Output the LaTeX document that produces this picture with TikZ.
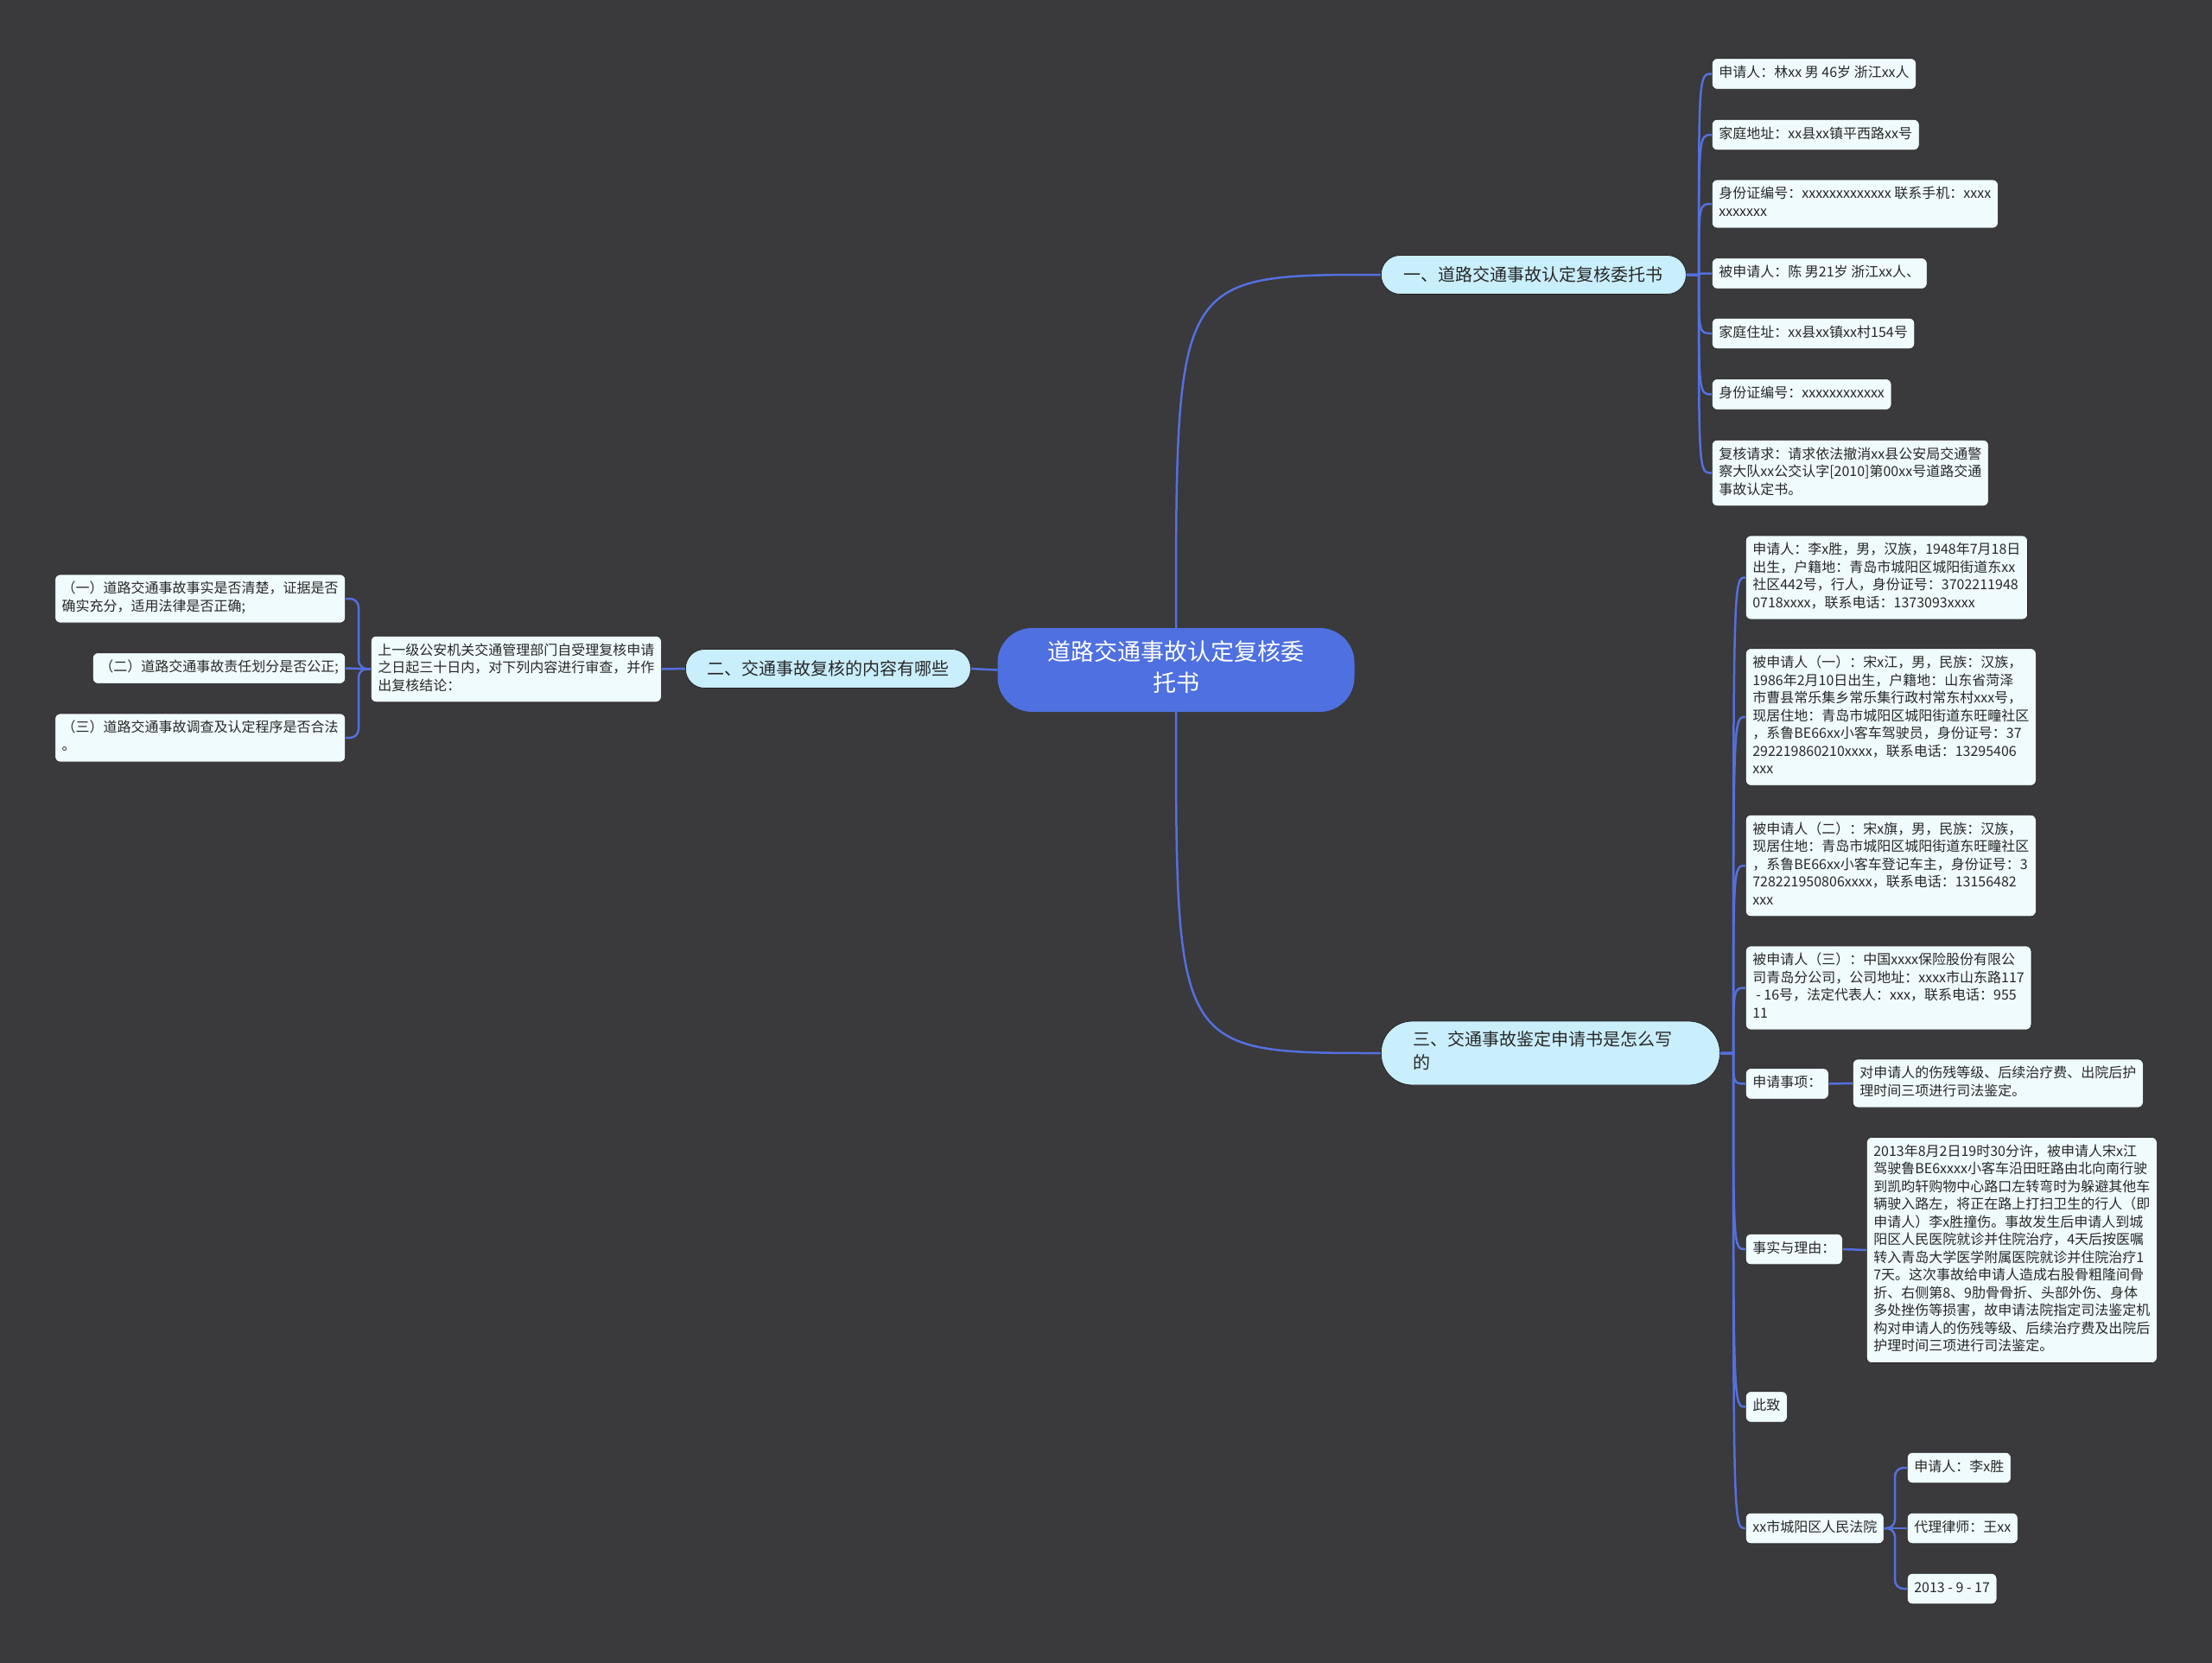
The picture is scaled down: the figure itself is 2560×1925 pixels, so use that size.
\documentclass[tikz,border=0pt]{standalone}
\usepackage{fontspec}
\setmainfont{Noto Sans CJK SC}
\definecolor{bgc}{RGB}{58,57,59}
\definecolor{linec}{RGB}{84,112,222}
\definecolor{rootc}{RGB}{78,112,224}
\definecolor{brc}{RGB}{201,238,252}
\definecolor{leafc}{RGB}{240,251,253}
\definecolor{txtc}{RGB}{40,40,40}
\definecolor{edgec}{RGB}{36,36,38}
\begin{document}
\begin{tikzpicture}[x=1pt,y=-1pt,
  conn/.style={draw=linec, line width=2.5pt},
  leaf/.style={rectangle, rounded corners=6pt, fill=leafc, draw=edgec, line width=0.6pt,
    text=txtc, font=\fontsize{16}{20.5}\selectfont, inner xsep=8pt, inner ysep=7.5pt, align=left},
  branch/.style={rectangle, rounded corners=22pt, fill=brc, draw=edgec, line width=0.8pt,
    text=txtc, font=\fontsize{20}{27}\selectfont, inner sep=0pt, align=center, minimum height=45pt},
  rootnode/.style={rectangle, rounded corners=40pt, fill=rootc, draw=none,
    text=white, font=\fontsize{27}{36}\selectfont, inner sep=0pt, align=center,
    minimum width=413pt, minimum height=97pt}
]
\fill[bgc] (0,0) rectangle (2560,1925);
\useasboundingbox (0,0) rectangle (2560,1925);

% root and branches
\node[rootnode] (root) at (1361,775.5) {\strut 道路交通事故认定复核委\\托书\strut};
\node[branch, anchor=west, minimum width=353pt] (b1) at (1598,318) {一、道路交通事故认定复核委托书};
\node[branch, anchor=west, minimum width=330pt] (b2) at (793,774) {二、交通事故复核的内容有哪些};
\node[branch, anchor=west, rounded corners=36pt, align=left, text width=318pt, inner xsep=37pt, inner ysep=9pt,
  minimum height=74pt] (b3) at (1598,1219) {\strut 三、交通事故鉴定申请书是怎么写\\的\strut};

% branch 1 leaves
\node[leaf, anchor=west] (a1) at (1981,85.5) {\strut 申请人：林xx 男 46岁 浙江xx人\strut};
\node[leaf, anchor=west] (a2) at (1981,156) {\strut 家庭地址：xx县xx镇平西路xx号\strut};
\node[leaf, anchor=west] (a3) at (1981,236) {\strut 身份证编号：xxxxxxxxxxxxx 联系手机：xxxx\\xxxxxxx\strut};
\node[leaf, anchor=west] (a4) at (1981,316.5) {\strut 被申请人：陈 男21岁 浙江xx人、\strut};
\node[leaf, anchor=west] (a5) at (1981,386) {\strut 家庭住址：xx县xx镇xx村154号\strut};
\node[leaf, anchor=west] (a6) at (1981,456.5) {\strut 身份证编号：xxxxxxxxxxxx\strut};
\node[leaf, anchor=west] (a7) at (1981,547.5) {\strut 复核请求：请求依法撤消xx县公安局交通警\\察大队xx公交认字[2010]第00xx号道路交通\\事故认定书。\strut};

% left side
\node[leaf, anchor=west] (m) at (429,774.5) {\strut 上一级公安机关交通管理部门自受理复核申请\\之日起三十日内，对下列内容进行审查，并作\\出复核结论：\strut};
\node[leaf, anchor=east] (l1) at (400,693) {\strut （一）道路交通事故事实是否清楚，证据是否\\确实充分，适用法律是否正确;\strut};
\node[leaf, anchor=east] (l2) at (400,773.5) {\strut （二）道路交通事故责任划分是否公正;\strut};
\node[leaf, anchor=east] (l3) at (400,854) {\strut （三）道路交通事故调查及认定程序是否合法\\。\strut};

% branch 3 leaves
\node[leaf, anchor=west] (c1) at (2020,668.5) {\strut 申请人：李x胜，男，汉族，1948年7月18日\\出生，户籍地：青岛市城阳区城阳街道东xx\\社区442号，行人，身份证号：3702211948\\0718xxxx，联系电话：1373093xxxx\strut};
\node[leaf, anchor=west] (c2) at (2020,830) {\strut 被申请人（一）：宋x江，男，民族：汉族，\\1986年2月10日出生，户籍地：山东省菏泽\\市曹县常乐集乡常乐集行政村常东村xxx号，\\现居住地：青岛市城阳区城阳街道东旺疃社区\\，系鲁BE66xx小客车驾驶员，身份证号：37\\292219860210xxxx，联系电话：13295406\\xxx\strut};
\node[leaf, anchor=west] (c3) at (2020,1002) {\strut 被申请人（二）：宋x旗，男，民族：汉族，\\现居住地：青岛市城阳区城阳街道东旺疃社区\\，系鲁BE66xx小客车登记车主，身份证号：3\\728221950806xxxx，联系电话：13156482\\xxx\strut};
\node[leaf, anchor=west] (c4) at (2020,1143.5) {\strut 被申请人（三）：中国xxxx保险股份有限公\\司青岛分公司，公司地址：xxxx市山东路117\\\hspace*{4pt}- 16号，法定代表人：xxx，联系电话：955\\11\strut};
\node[leaf, anchor=west] (c5) at (2020,1254.5) {\strut 申请事项：\strut};
\node[leaf, anchor=west] (d1) at (2144,1254) {\strut 对申请人的伤残等级、后续治疗费、出院后护\\理时间三项进行司法鉴定。\strut};
\node[leaf, anchor=west] (c6) at (2020,1446) {\strut 事实与理由：\strut};
\node[leaf, anchor=west] (d2) at (2160,1447) {\strut 2013年8月2日19时30分许，被申请人宋x江\\驾驶鲁BE6xxxx小客车沿田旺路由北向南行驶\\到凯昀轩购物中心路口左转弯时为躲避其他车\\辆驶入路左，将正在路上打扫卫生的行人（即\\申请人）李x胜撞伤。事故发生后申请人到城\\阳区人民医院就诊并住院治疗，4天后按医嘱\\转入青岛大学医学附属医院就诊并住院治疗1\\7天。这次事故给申请人造成右股骨粗隆间骨\\折、右侧第8、9肋骨骨折、头部外伤、身体\\多处挫伤等损害，故申请法院指定司法鉴定机\\构对申请人的伤残等级、后续治疗费及出院后\\护理时间三项进行司法鉴定。\strut};
\node[leaf, anchor=west] (c7) at (2020,1628.5) {\strut 此致\strut};
\node[leaf, anchor=west] (c8) at (2020,1769) {\strut xx市城阳区人民法院\strut};
\node[leaf, anchor=west] (e1) at (2207,1699) {\strut 申请人：李x胜\strut};
\node[leaf, anchor=west] (e2) at (2207,1769) {\strut 代理律师：王xx\strut};
\node[leaf, anchor=west] (e3) at (2207,1839) {\strut 2013 - 9 - 17\strut};

% spine points
\coordinate (s1) at (1966,318);
\coordinate (s3) at (2006,1219);
\coordinate (sl) at (415,774);
\coordinate (sc) at (2193,1769);

% root connectors
\draw[conn] (root.north) .. controls (root.north |- b1.west) .. (b1.west);
\draw[conn] (root.south) .. controls (root.south |- b3.west) .. (b3.west);
\draw[conn] (root.west) -- (b2.east);
\draw[conn] (b2.west) -- (m.east);

% branch 1
\foreach \c in {a1,a2,a3,a4,a5,a6,a7}
  \draw[conn] (b1.east) -- (s1) .. controls (s1 |- \c.west) .. (\c.west);

% branch 3
\foreach \c in {c1,c2,c3,c4,c5,c6,c7,c8}
  \draw[conn] (b3.east) -- (s3) .. controls (s3 |- \c.west) .. (\c.west);
\draw[conn] (c5.east) -- (d1.west);
\draw[conn] (c6.east) -- (d2.west);

% court group
\draw[conn, rounded corners=10pt] (c8.east) -- (sc) |- (e1.west);
\draw[conn, rounded corners=10pt] (c8.east) -- (sc) |- (e3.west);
\draw[conn] (c8.east) -- (e2.west);

% left group
\draw[conn, rounded corners=10pt] (m.west) -- (sl) |- (l1.east);
\draw[conn, rounded corners=10pt] (m.west) -- (sl) |- (l3.east);
\draw[conn] (m.west) -- (l2.east);
\end{tikzpicture}
\end{document}
